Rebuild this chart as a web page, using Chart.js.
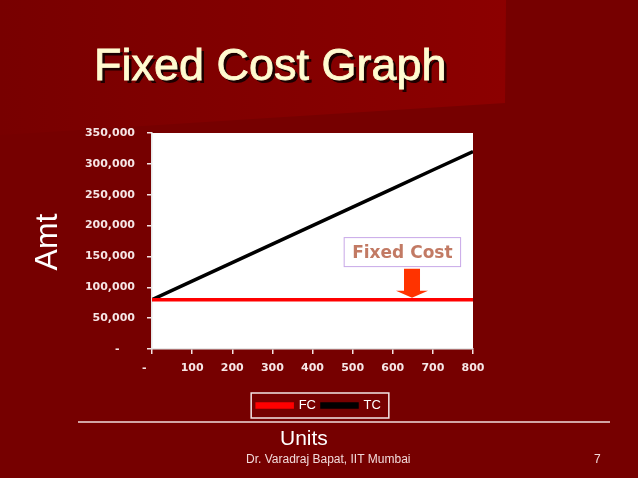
<!DOCTYPE html>
<html>
<head>
<meta charset="utf-8">
<script src="https://cdn.jsdelivr.net/npm/chart.js@4/dist/chart.umd.min.js"></script>
<style>
  html, body { margin: 0; padding: 0; background: #760000; }
  #wrap { position: relative; width: 638px; height: 478px; }
</style>
</head>
<body>
<div id="wrap"><canvas id="costChart" width="638" height="478"></canvas></div>
<script>
// chart data
const units = [0, 100, 200, 300, 400, 500, 600, 700, 800];
const fixedCost = [80000, 80000, 80000, 80000, 80000, 80000, 80000, 80000, 80000];
const totalCost = [80000, 110000, 140000, 170000, 200000, 230000, 260000, 290000, 320000];
const seriesNames = ['FC', 'TC'];
const yMax = 350000;
const xMax = 800;

const tickFont = { family: 'DejaVu Sans', size: 11, weight: 'bold' };
const tickColor = '#f6e6e6';

function toPoints(xs, ys) {
  return xs.map((x, i) => ({ x: x, y: ys[i] }));
}

// slide background, title and the other slide texts
const slideDecor = {
  id: 'slideDecor',
  beforeDraw(chart) {
    const c = chart.ctx;
    c.save();
    c.fillStyle = '#760000';
    c.fillRect(0, 0, chart.width, chart.height);
    // lighter title panel
    const g = c.createLinearGradient(0, 0, 506, 0);
    g.addColorStop(0, '#780000');
    g.addColorStop(1, '#8c0000');
    c.fillStyle = g;
    c.beginPath();
    c.moveTo(0, 0);
    c.lineTo(506, 0);
    c.lineTo(505, 103);
    c.lineTo(0, 135);
    c.closePath();
    c.fill();

    // title with shadow
    c.font = '45px "Liberation Sans", Arial, sans-serif';
    c.textBaseline = 'alphabetic';
    c.textAlign = 'left';
    c.fillStyle = '#1c0000';
    c.fillText('Fixed Cost Graph', 97, 83);
    c.fillStyle = '#fffbd0';
    c.strokeStyle = '#fffbd0';
    c.lineWidth = 0.8;
    c.fillText('Fixed Cost Graph', 94, 80);
    c.strokeText('Fixed Cost Graph', 94, 80);

    // white plot area
    const a = chart.chartArea;
    c.fillStyle = '#ffffff';
    c.fillRect(a.left, a.top, a.right - a.left, a.bottom - a.top);
    c.restore();
  },
  afterDraw(chart) {
    const c = chart.ctx;
    c.save();
    // Amt (rotated)
    c.fillStyle = '#ffffff';
    c.font = '32px "Liberation Sans", Arial, sans-serif';
    c.textAlign = 'center';
    c.textBaseline = 'middle';
    c.translate(48, 242);
    c.rotate(-Math.PI / 2);
    c.fillText('Amt', 0, 0);
    c.restore();

    c.save();
    // separator line
    c.strokeStyle = '#f2dcdc';
    c.lineWidth = 1.5;
    c.beginPath();
    c.moveTo(78, 422);
    c.lineTo(610, 422);
    c.stroke();

    c.fillStyle = '#ffffff';
    c.font = '21px "Liberation Sans", Arial, sans-serif';
    c.textAlign = 'left';
    c.textBaseline = 'alphabetic';
    c.fillText('Units', 280, 445);

    c.fillStyle = '#f2dada';
    c.font = '12px "Liberation Sans", Arial, sans-serif';
    c.fillText('Dr. Varadraj Bapat, IIT Mumbai', 246, 463);
    c.fillText('7', 594, 463);

    // legend frame
    const boxes = chart.legend.legendHitBoxes;
    if (boxes && boxes.length) {
      const l = Math.min(...boxes.map(b => b.left)) - 6;
      const r = Math.max(...boxes.map(b => b.left + b.width)) + 8;
      const t = Math.min(...boxes.map(b => b.top)) - 6;
      const btm = Math.max(...boxes.map(b => b.top + b.height)) + 6;
      c.strokeStyle = '#f4e4e4';
      c.lineWidth = 1.5;
      c.strokeRect(l, t, r - l, btm - t);
    }
    c.restore();
  }
};

// "Fixed Cost" callout with arrow, placed by data values
const fixedCostNote = {
  id: 'fixedCostNote',
  afterDatasetsDraw(chart) {
    const c = chart.ctx;
    const xs = chart.scales.x, ys = chart.scales.y;
    const bx = xs.getPixelForValue(624);
    const by = ys.getPixelForValue(157000);
    const ax = xs.getPixelForValue(648);
    const tip = ys.getPixelForValue(83000);
    const top = ys.getPixelForValue(130000);
    c.save();
    c.font = 'bold 17px "DejaVu Sans", Verdana, sans-serif';
    const tw = c.measureText('Fixed Cost').width;
    const w = tw + 16, h = 29;
    c.fillStyle = '#ffffff';
    c.fillRect(bx - w / 2, by - h / 2, w, h);
    c.strokeStyle = '#c8a8e8';
    c.lineWidth = 1;
    c.strokeRect(bx - w / 2, by - h / 2, w, h);
    c.fillStyle = '#c27a64';
    c.textAlign = 'center';
    c.textBaseline = 'middle';
    c.fillText('Fixed Cost', bx, by + 1);

    c.fillStyle = '#ff3300';
    c.beginPath();
    c.moveTo(ax - 8, top);
    c.lineTo(ax + 8, top);
    c.lineTo(ax + 8, tip - 7);
    c.lineTo(ax + 16, tip - 7);
    c.lineTo(ax, tip);
    c.lineTo(ax - 16, tip - 7);
    c.lineTo(ax - 8, tip - 7);
    c.closePath();
    c.fill();
    c.restore();
  }
};

const ctx = document.getElementById('costChart').getContext('2d');

new Chart(ctx, {
  type: 'line',
  data: {
    datasets: [{
      label: seriesNames[0],
      data: toPoints(units, fixedCost),
      borderColor: '#ff0000',
      backgroundColor: '#ff0000',
      borderWidth: 3.5,
      pointRadius: 0,
      tension: 0
    }, {
      label: seriesNames[1],
      data: toPoints(units, totalCost),
      borderColor: '#000000',
      backgroundColor: '#000000',
      borderWidth: 3.5,
      pointRadius: 0,
      tension: 0
    }]
  },
  options: {
    responsive: false,
    animation: false,
    layout: {
      padding: { left: 0, top: 133, right: 0, bottom: 56 }
    },
    scales: {
      x: {
        type: 'linear',
        min: 0,
        max: xMax,
        afterFit: (scale) => { scale.height = 44; },
        ticks: {
          stepSize: 100,
          color: tickColor,
          font: tickFont,
          padding: 8,
          maxRotation: 0,
          callback: (v) => v === 0 ? '-\u00a0\u00a0\u00a0\u00a0' : String(v)
        },
        grid: {
          drawOnChartArea: false,
          drawTicks: true,
          tickLength: 5,
          tickColor: '#f4e4e4',
          lineWidth: 1.5
        },
        border: { display: true, color: '#e8e8e8', width: 1.5 }
      },
      y: {
        min: 0,
        max: yMax,
        afterFit: (scale) => { scale.width = 152; },
        ticks: {
          stepSize: 50000,
          color: tickColor,
          font: tickFont,
          padding: 12,
          callback: (v) => v === 0 ? '-\u00a0\u00a0\u00a0\u00a0' : v.toLocaleString('en-US')
        },
        grid: {
          drawOnChartArea: false,
          drawTicks: true,
          tickLength: 5,
          tickColor: '#f4e4e4',
          lineWidth: 1.5
        },
        border: { display: true, color: '#e8e8e8', width: 1.5 }
      },
      // empty right-hand axis, only keeps the plot narrow while the legend stays page-centred
      spacer: {
        type: 'linear',
        position: 'right',
        min: 0,
        max: 1,
        afterFit: (scale) => { scale.width = 165; },
        ticks: { display: false },
        grid: { display: false, drawTicks: false },
        border: { display: false }
      }
    },
    plugins: {
      legend: {
        display: true,
        position: 'bottom',
        labels: {
          color: '#ffffff',
          font: { family: 'Liberation Sans', size: 13 },
          boxWidth: 35,
          boxHeight: 3,
          padding: 6
        }
      },
      tooltip: { enabled: false }
    }
  },
  plugins: [slideDecor, fixedCostNote]
});
</script>
</body>
</html>
